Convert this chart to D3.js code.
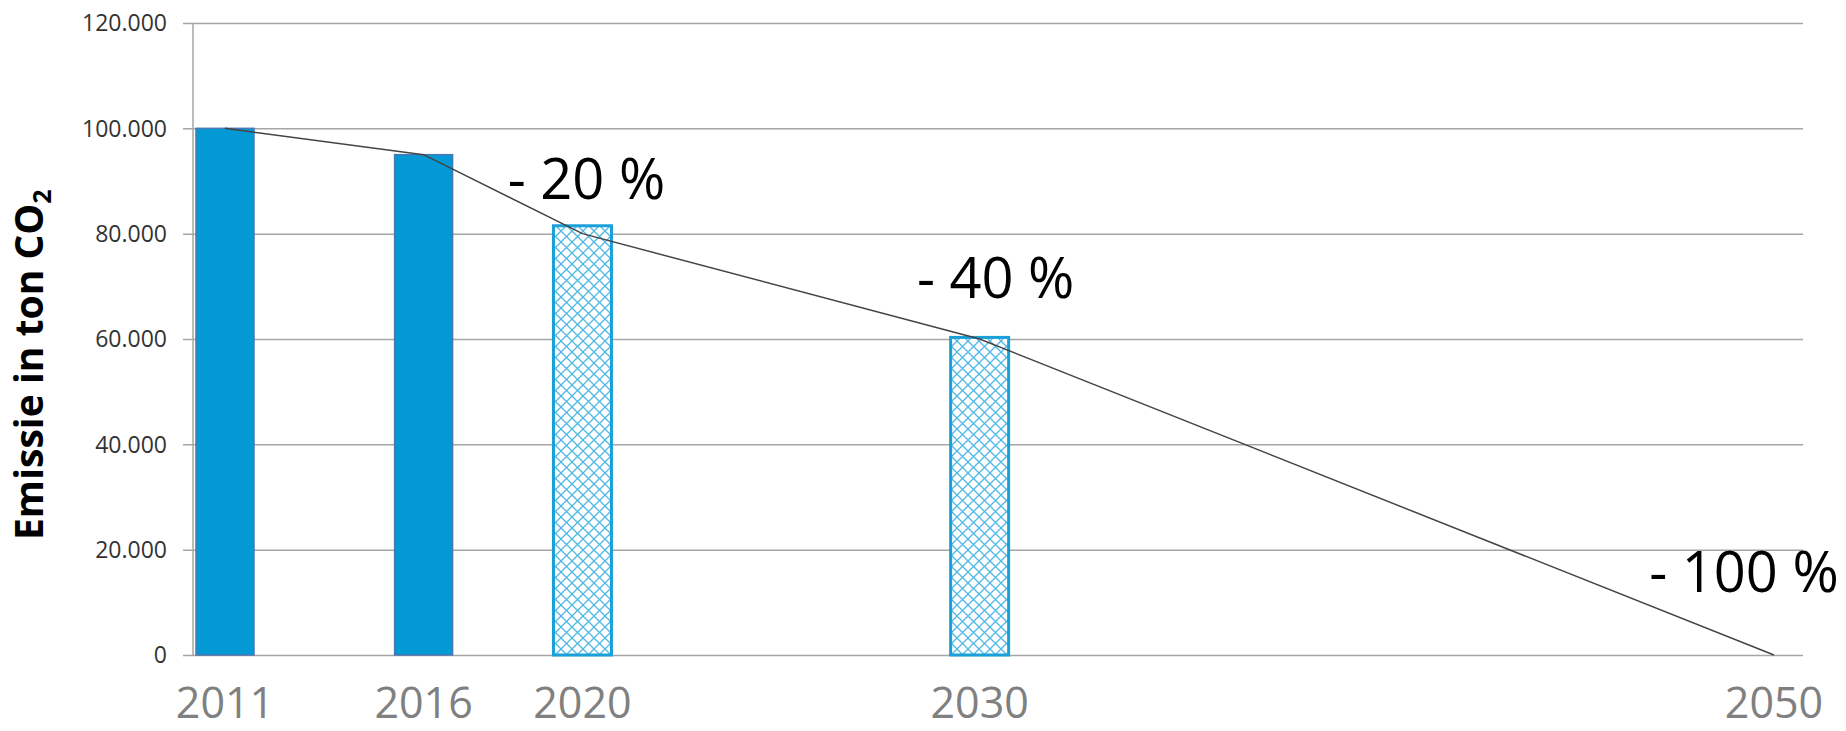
<!DOCTYPE html>
<html>
<head>
<meta charset="utf-8">
<script src="https://cdn.jsdelivr.net/npm/d3@7"></script>
<style>
  body { margin: 0; background: #fff; }
  svg { display: block; font-family: "Open Sans", sans-serif; }
</style>
</head>
<body>
<svg id="chart" width="1846" height="731"></svg>
<script>
// data
const years = [2011, 2016, 2020, 2030, 2050];
const barYears = [2011, 2016, 2020, 2030];
const barValues = [100000, 95000, 81500, 60300];
const barKind = ['actual', 'actual', 'target', 'target'];
const lineValues = [100000, 95000, 80000, 60000, 0];
const yTicks = [0, 20000, 40000, 60000, 80000, 100000, 120000];
const reductionYears = [2020, 2030, 2050];
const reductionLabels = ['- 20 %', '- 40 %', '- 100 %'];

const svg = d3.select('#chart');

const plotLeft = 193, plotRight = 1803, plotTop = 23, plotBottom = 655;
const barWidth = 58;

const x = d3.scaleLinear().domain([2011, 2050]).range([225, 1774]);
const y = d3.scaleLinear().domain([0, 120000]).range([plotBottom, plotTop]);

const nl = d3.formatLocale({ decimal: ',', thousands: '.', grouping: [3], currency: ['€', ''] });
const fmt = nl.format(',.0f');

// hatch pattern for target bars
const defs = svg.append('defs');
const pat = defs.append('pattern')
    .attr('id', 'hatch')
    .attr('width', 11)
    .attr('height', 11)
    .attr('patternUnits', 'userSpaceOnUse');
pat.append('rect').attr('width', 11).attr('height', 11).attr('fill', '#fff');
pat.append('path')
    .attr('d', 'M0,0L11,11M11,0L0,11')
    .attr('stroke', '#4fb8e5')
    .attr('stroke-width', 1.3);

// gridlines + y axis
const yAxis = svg.append('g')
    .attr('transform', `translate(${plotLeft},0)`)
    .call(d3.axisLeft(y).tickValues(yTicks).tickSize(10).tickFormat(fmt));
yAxis.select('.domain').remove();
yAxis.selectAll('.tick line')
    .attr('x2', plotRight - plotLeft)
    .attr('x1', -10)
    .attr('stroke', '#a6a6a6')
    .attr('stroke-width', 1.5);
yAxis.selectAll('.tick text')
    .attr('x', -26)
    .attr('dy', '0.34em')
    .attr('fill', '#333')
    .style('font-size', '23px')
    .style('font-family', '"Open Sans", sans-serif');

svg.append('line')
    .attr('x1', plotLeft).attr('x2', plotLeft)
    .attr('y1', plotTop).attr('y2', plotBottom)
    .attr('stroke', '#a6a6a6')
    .attr('stroke-width', 1.5);

// bars
svg.selectAll('.bar')
    .data(barYears)
    .enter()
    .append('rect')
    .attr('class', 'bar')
    .attr('x', d => x(d) - barWidth / 2)
    .attr('width', barWidth)
    .attr('y', (d, i) => y(barValues[i]))
    .attr('height', (d, i) => y(0) - y(barValues[i]))
    .attr('fill', (d, i) => barKind[i] === 'actual' ? '#0399d4' : 'url(#hatch)')
    .attr('stroke', (d, i) => barKind[i] === 'actual' ? '#4a78b5' : '#1aa0d9')
    .attr('stroke-width', (d, i) => barKind[i] === 'actual' ? 1.5 : 3);

// reduction path line
const line = d3.line()
    .x((d, i) => x(years[i]))
    .y(d => y(d));
svg.append('path')
    .datum(lineValues)
    .attr('d', line)
    .attr('fill', 'none')
    .attr('stroke', '#444')
    .attr('stroke-width', 1.5);

// year labels
svg.selectAll('.year')
    .data(years)
    .enter()
    .append('text')
    .attr('class', 'year')
    .attr('x', d => x(d))
    .attr('y', 718)
    .attr('text-anchor', 'middle')
    .attr('fill', '#808080')
    .style('font-size', '43px')
    .text(d => d);

// reduction labels
const labelShift = [[4, -35], [16, -41], [-30, -63]];
svg.selectAll('.reduction')
    .data(reductionYears)
    .enter()
    .append('text')
    .attr('class', 'reduction')
    .attr('x', (d, i) => x(d) + labelShift[i][0])
    .attr('y', (d, i) => y(lineValues[years.indexOf(d)]) + labelShift[i][1])
    .attr('text-anchor', 'middle')
    .attr('fill', '#000')
    .style('font-size', '56px')
    .text((d, i) => reductionLabels[i]);

// y axis title
const title = svg.append('text')
    .attr('transform', 'translate(43,540) rotate(-90)')
    .attr('fill', '#000')
    .style('font-size', '39px')
    .style('font-weight', 'bold');
title.append('tspan').text('Emissie in ton CO');
title.append('tspan')
    .attr('dy', 8)
    .style('font-size', '25px')
    .text('2');
</script>
</body>
</html>
